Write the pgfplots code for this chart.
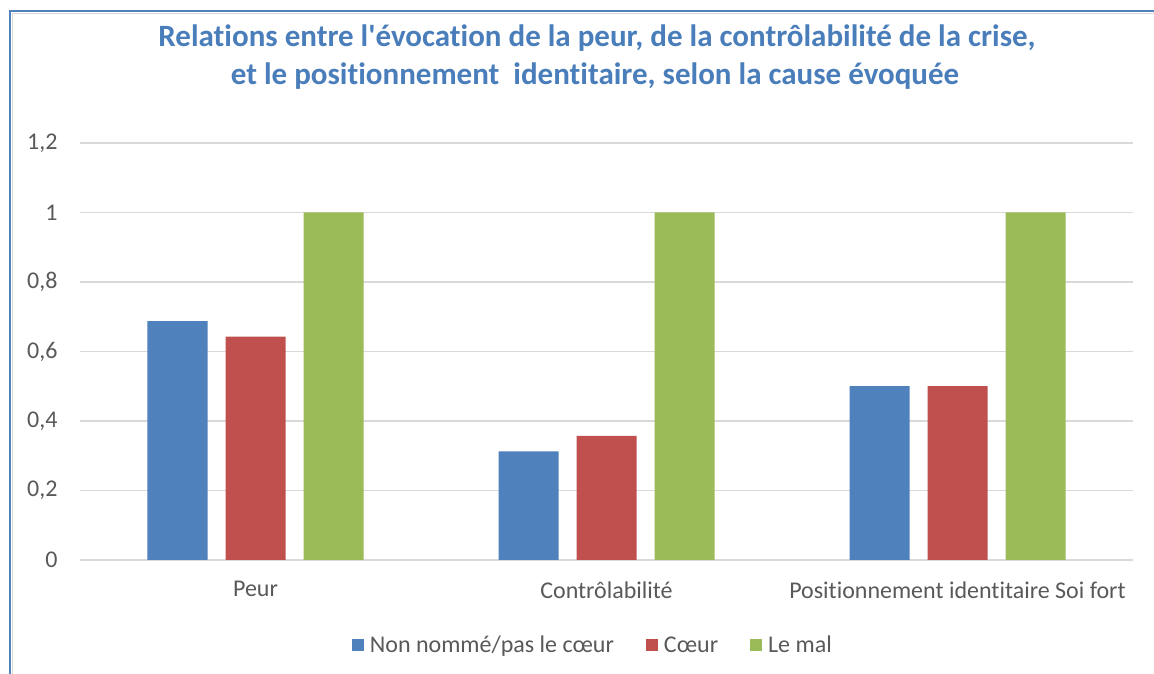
\documentclass[border=0pt]{standalone}
\usepackage{pgfplots}
\pgfplotsset{compat=1.18}
\usepackage{fontspec}
\setmainfont{Carlito}[Ligatures=NoCommon]
\newfontfamily\titlefont{Carlito}[Ligatures=NoCommon]
\definecolor{cblue}{HTML}{4F81BD}
\definecolor{cred}{HTML}{C0504D}
\definecolor{cgreen}{HTML}{9BBB59}
\definecolor{ctext}{HTML}{595959}
\definecolor{cgrid}{HTML}{D9D9D9}
\definecolor{ctitle}{HTML}{4A7EBB}
\begin{document}
\begin{tikzpicture}
\path[use as bounding box] (0pt,0pt) rectangle (1154pt,674pt);
\fill[white] (0pt,0pt) rectangle (1154pt,674pt);
\draw[cgrid, line width=1pt] (12.5pt,0pt) -- (12.5pt,660.5pt) -- (1154pt,660.5pt);
\draw[cblue, line width=2pt] (10pt,0pt) -- (10pt,662.5pt) -- (1154pt,662.5pt);
\node[anchor=base, text=ctitle, font=\titlefont\fontsize{31}{37}\selectfont\bfseries] at (597pt,627pt)
  {Relations entre l'évocation de la peur, de la contrôlabilité de la crise,};
\node[anchor=base, text=ctitle, font=\titlefont\fontsize{31}{37}\selectfont\bfseries] at (595pt,589pt)
  {et le positionnement\ \ identitaire, selon la cause évoquée};
\begin{axis}[
  at={(80pt,114pt)}, anchor=south west,
  scale only axis, width=1053pt, height=417pt,
  ybar=18pt, bar width=60pt,
  xmin=-0.5, xmax=2.5, ymin=0, ymax=1.2,
  enlargelimits=false,
  xtick={0,1,2},
  xticklabels={Peur, Contrôlabilité, Positionnement identitaire Soi fort},
  ytick={0,0.2,0.4,0.6,0.8,1,1.2},
  major tick length=0pt,
  axis line style={draw=none},
  ymajorgrids, grid style={cgrid, line width=1.5pt},
  /pgf/number format/use comma,
  /pgf/number format/assume math mode=true,
  tick label style={font=\fontsize{24}{28}\selectfont, text=ctext},
  yticklabel style={xshift=-19pt},
  xticklabel style={yshift=-18pt},
  legend columns=3,
  legend style={at={(0.487,-0.204)}, anchor=center, draw=none, fill=none,
    font=\fontsize{24}{28}\selectfont, text=ctext,
    /tikz/every even column/.append style={column sep=30pt}},
  legend image code/.code={\fill[#1] (0pt,-6pt) rectangle (12pt,6pt); \path (16pt,0pt);},
]
\addplot[fill=cblue, draw=none] coordinates {(0,0.6875) (1,0.3125) (2,0.5)};
\addplot[fill=cred, draw=none] coordinates {(0,0.6429) (1,0.3571) (2,0.5)};
\addplot[fill=cgreen, draw=none] coordinates {(0,1) (1,1) (2,1)};
\legend{Non nommé/pas le cœur, Cœur, Le mal}
\end{axis}
\end{tikzpicture}
\end{document}
